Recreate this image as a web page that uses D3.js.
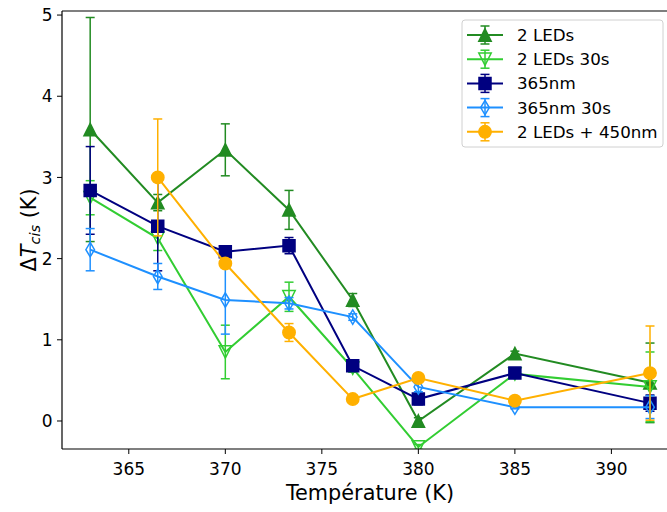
<!DOCTYPE html>
<html><head><meta charset="utf-8">
<script src="https://cdn.jsdelivr.net/npm/d3@7"></script>
<style>
html,body{margin:0;padding:0;background:#fff;}
text{font-family:"DejaVu Sans",sans-serif;}
</style></head>
<body>
<svg id="chart" width="667" height="512"></svg>
<script>
// ---- data ----
const temps = [363, 366.5, 370, 373.3, 376.6, 380, 385, 392];
const leds2 = [3.59, 2.69, 3.34, 2.60, 1.49, 0.00, 0.83, 0.47];
const leds2Err = [1.38, 0.10, 0.32, 0.24, 0.08, 0.04, 0.03, 0.49];
const leds2s30 = [2.75, 2.25, 0.85, 1.53, 0.65, -0.32, 0.58, 0.42];
const leds2s30Err = [0.21, 0.15, 0.33, 0.18, 0.05, 0.03, 0.03, 0.43];
const nm365 = [2.84, 2.40, 2.085, 2.16, 0.68, 0.27, 0.59, 0.22];
const nm365Err = [0.54, 0.55, 0.05, 0.10, 0.03, 0.07, 0.05, 0.10];
const nm365s30 = [2.11, 1.78, 1.49, 1.45, 1.28, 0.42, 0.17, 0.17];
const nm365s30Err = [0.26, 0.16, 0.42, 0.07, 0.04, 0.06, 0.02, 0.14];
const leds450 = [null, 3.00, 1.94, 1.09, 0.27, 0.53, 0.25, 0.59];
const leds450Err = [null, 0.72, 0.05, 0.11, 0.02, 0.03, 0.03, 0.58];
const seriesNames = ["2 LEDs", "2 LEDs 30s", "365nm", "365nm 30s", "2 LEDs + 450nm"];
const xTicks = [365, 370, 375, 380, 385, 390];
const yTicks = [0, 1, 2, 3, 4, 5];

const series = [
  {name: seriesNames[0], y: leds2, e: leds2Err, color: "#228b22", marker: "triUp", fill: true},
  {name: seriesNames[1], y: leds2s30, e: leds2s30Err, color: "#32cd32", marker: "triDown", fill: false},
  {name: seriesNames[2], y: nm365, e: nm365Err, color: "#000080", marker: "square", fill: true},
  {name: seriesNames[3], y: nm365s30, e: nm365s30Err, color: "#1e90ff", marker: "thinDiamond", fill: false},
  {name: seriesNames[4], y: leds450, e: leds450Err, color: "#ffb000", marker: "circle", fill: true}
];

// ---- layout ----
const L = 62, T = 11, R = 678, B = 449;
const svg = d3.select("#chart");
const x = d3.scaleLinear().domain([361.54, 393.45]).range([L, R]);
const y = d3.scaleLinear().domain([-0.345, 5.05]).range([B, T]);

svg.append("defs").append("clipPath").attr("id", "clip")
  .append("rect").attr("x", L).attr("y", T).attr("width", R - L).attr("height", B - T);

function markerPath(kind) {
  switch (kind) {
    case "triUp": return "M0,-6.2L6.2,6.2L-6.2,6.2Z";
    case "triDown": return "M0,6.2L6.2,-6.2L-6.2,-6.2Z";
    case "square": return "M-6,-6H6V6H-6Z";
    case "thinDiamond": return "M0,-7.2L4.3,0L0,7.2L-4.3,0Z";
    case "circle": return d3.symbol(d3.symbolCircle, Math.PI * 6.2 * 6.2)();
  }
}

const plot = svg.append("g").attr("clip-path", "url(#clip)");
const line = d3.line().defined(d => d.v != null).x(d => x(d.t)).y(d => y(d.v));

series.forEach(s => {
  const g = plot.append("g");
  const pts = temps.map((t, i) => ({t, v: s.y[i], e: s.e[i]})).filter(d => d.v != null);
  pts.forEach(d => {
    const x0 = x(d.t), y1 = y(d.v + d.e), y2 = y(d.v - d.e);
    g.append("line").attr("x1", x0).attr("x2", x0).attr("y1", y1).attr("y2", y2)
      .attr("stroke", s.color).attr("stroke-width", 1.5);
    [y1, y2].forEach(yy => g.append("line").attr("x1", x0 - 4.5).attr("x2", x0 + 4.5)
      .attr("y1", yy).attr("y2", yy).attr("stroke", s.color).attr("stroke-width", 1.5));
  });
  g.append("path").datum(pts).attr("d", line).attr("fill", "none")
    .attr("stroke", s.color).attr("stroke-width", 2);
  g.selectAll(".m").data(pts).enter().append("path")
    .attr("transform", d => `translate(${x(d.t)},${y(d.v)})`)
    .attr("d", markerPath(s.marker))
    .attr("fill", s.fill ? s.color : "#fff")
    .attr("fill-opacity", s.fill ? 1 : 0)
    .attr("stroke", s.color).attr("stroke-width", 1.5);
});

// ---- axes ----
const ax = svg.append("g");
ax.append("line").attr("x1", L).attr("x2", L).attr("y1", T).attr("y2", B).attr("stroke", "#000").attr("stroke-width", 1.2);
ax.append("line").attr("x1", L).attr("x2", R).attr("y1", T).attr("y2", T).attr("stroke", "#000").attr("stroke-width", 1.2);
ax.append("line").attr("x1", L).attr("x2", R).attr("y1", B).attr("y2", B).attr("stroke", "#000").attr("stroke-width", 1.2);

yTicks.forEach(v => {
  ax.append("line").attr("x1", L - 5).attr("x2", L).attr("y1", y(v)).attr("y2", y(v)).attr("stroke", "#000").attr("stroke-width", 1);
  ax.append("text").attr("x", L - 9.5).attr("y", y(v)).attr("dy", "0.36em")
    .attr("text-anchor", "end").attr("font-size", 17).attr("fill", "#000").text(v);
});
xTicks.forEach(v => {
  ax.append("line").attr("x1", x(v)).attr("x2", x(v)).attr("y1", B).attr("y2", B + 5).attr("stroke", "#000").attr("stroke-width", 1);
  ax.append("text").attr("x", x(v)).attr("y", B + 26)
    .attr("text-anchor", "middle").attr("font-size", 17).attr("fill", "#000").text(v);
});

svg.append("text").attr("x", (L + R) / 2).attr("y", 500).attr("text-anchor", "middle")
  .attr("font-size", 20.8).attr("fill", "#000").text("Température (K)");

const yl = svg.append("text").attr("transform", `translate(36,${(T + B) / 2}) rotate(-90)`)
  .attr("text-anchor", "middle").attr("font-size", 20.8).attr("fill", "#000");
yl.append("tspan").text("Δ");
yl.append("tspan").attr("font-style", "italic").text("T");
yl.append("tspan").attr("font-style", "italic").attr("font-size", 14.5).attr("dy", 4).text("cis");
yl.append("tspan").attr("dy", -4).text(" (K)");

// ---- legend ----
const lg = svg.append("g");
lg.append("rect").attr("x", 462).attr("y", 20).attr("width", 201).attr("height", 127)
  .attr("rx", 3).attr("fill", "#fff").attr("fill-opacity", 0.8).attr("stroke", "#d0d0d0");
series.forEach((s, i) => {
  const cy = 35 + i * 24.2, cx = 485;
  const g = lg.append("g");
  g.append("line").attr("x1", 467).attr("x2", 503).attr("y1", cy).attr("y2", cy).attr("stroke", s.color).attr("stroke-width", 2);
  g.append("line").attr("x1", cx).attr("x2", cx).attr("y1", cy - 9).attr("y2", cy + 9).attr("stroke", s.color).attr("stroke-width", 1.5);
  [cy - 9, cy + 9].forEach(yy => g.append("line").attr("x1", cx - 4.5).attr("x2", cx + 4.5).attr("y1", yy).attr("y2", yy).attr("stroke", s.color).attr("stroke-width", 1.5));
  g.append("path").attr("transform", `translate(${cx},${cy})`).attr("d", markerPath(s.marker))
    .attr("fill", s.fill ? s.color : "#fff").attr("fill-opacity", s.fill ? 1 : 0)
    .attr("stroke", s.color).attr("stroke-width", 1.5);
  g.append("text").attr("x", 517).attr("y", cy).attr("dy", "0.36em").attr("font-size", 16.7)
    .attr("fill", "#000").text(s.name);
});
</script>
</body></html>
